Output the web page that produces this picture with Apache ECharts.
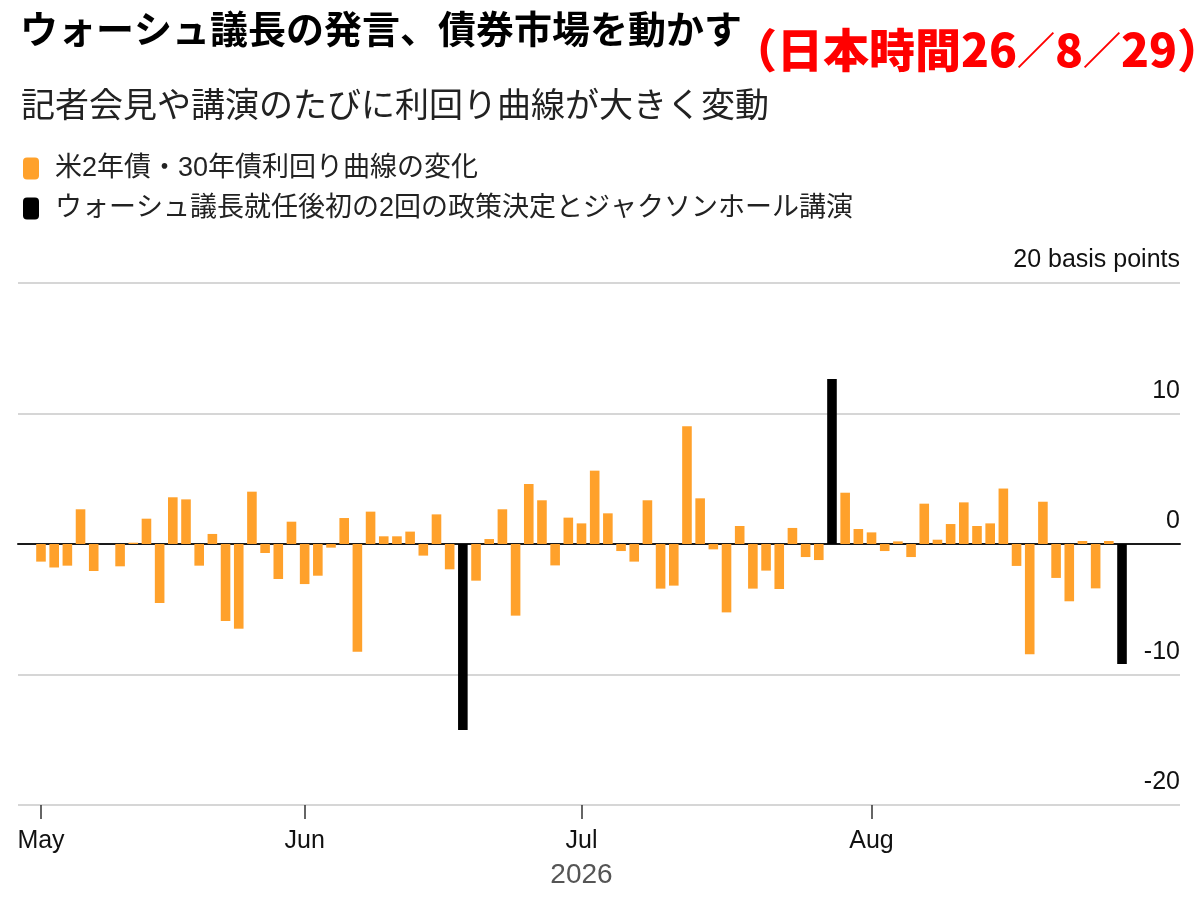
<!DOCTYPE html>
<html>
<head>
<meta charset="utf-8">
<script src="https://cdn.jsdelivr.net/npm/echarts@6/dist/echarts.min.js"></script>
<style>
  html, body { margin: 0; padding: 0; background: #fff; }
  #chart { width: 1200px; height: 900px; }
</style>
</head>
<body>
<div id="chart"></div>
<script>
// 取引日（米国債市場の休場日を除く）
var mayDays = [1, 4, 5, 6, 7, 8, 11, 12, 13, 14, 15, 18, 19, 20, 21, 22, 26, 27, 28, 29];
var junDays = [1, 2, 3, 4, 5, 8, 9, 10, 11, 12, 15, 16, 17, 18, 22, 23, 24, 25, 26, 29, 30];
var julDays = [1, 2, 6, 7, 8, 9, 10, 13, 14, 15, 16, 17, 20, 21, 22, 23, 24, 27, 28, 29, 30, 31];
var augDays = [3, 4, 5, 6, 7, 10, 11, 12, 13, 14, 17, 18, 19, 20, 21, 24, 25, 26, 27, 28];
var monthNames = ['Jan', 'Feb', 'Mar', 'Apr', 'May', 'Jun', 'Jul', 'Aug', 'Sep', 'Oct', 'Nov', 'Dec'];

// 2年債・30年債利回り曲線の変化（bp）
var curveChange = [
  -1.35, -1.8, -1.66, 2.66, -2.07, 0, -1.71, 0.1, 1.94, -4.52,
  3.58, 3.42, -1.66, 0.77, -5.9, -6.49, 4.01, -0.69, -2.68, 1.71,
  -3.07, -2.43, -0.28, 1.99, -8.25, 2.48, 0.59, 0.59, 0.95, -0.89,
  2.27, -1.94, -14.25, -2.81, 0.38, 2.66, -5.49, 4.6, 3.35, -1.64,
  2.02, 1.58, 5.62, 2.35, -0.54, -1.35, 3.35, -3.42, -3.19, 9.02,
  3.5, -0.41, -5.24, 1.38, -3.42, -2.04, -3.45, 1.23, -1.0, -1.23,
  12.64, 3.93, 1.15, 0.89, -0.54, 0.2, -1.0, 3.09, 0.33, 1.53,
  3.19, 1.38, 1.58, 4.25, -1.68, -8.45, 3.24, -2.6, -4.39, 0.23,
  -3.4, 0.23, -9.2
];
// 政策決定とジャクソンホール講演の日
var eventDates = ['2026-06-17', '2026-07-29', '2026-08-28'];

var seriesCurve = '米2年債・30年債利回り曲線の変化';
var seriesEvent = 'ウォーシュ議長就任後初の2回の政策決定とジャクソンホール講演';

function pad(n) { return n < 10 ? '0' + n : '' + n; }
var dates = [];
[[5, mayDays], [6, junDays], [7, julDays], [8, augDays]].forEach(function (m) {
  m[1].forEach(function (d) { dates.push('2026-' + pad(m[0]) + '-' + pad(d)); });
});

var curveData = dates.map(function (d, i) {
  return eventDates.indexOf(d) >= 0 ? null : curveChange[i];
});
var eventData = dates.map(function (d, i) {
  return eventDates.indexOf(d) >= 0 ? curveChange[i] : null;
});

function isMonthStart(idx) {
  return idx === 0 || dates[idx].slice(5, 7) !== dates[idx - 1].slice(5, 7);
}

var latin = "'Liberation Sans', 'Noto Sans CJK JP', sans-serif";
var cjk = "'Noto Sans CJK JP', sans-serif";

var chart = echarts.init(document.getElementById('chart'));

var option = {
  animation: false,
  backgroundColor: '#fff',
  title: [
    {
      text: 'ウォーシュ議長の発言、債券市場を動かす',
      left: 15, top: 5,
      textStyle: { fontFamily: cjk, fontSize: 38, fontWeight: 'bold', color: '#000' }
    },
    {
      text: '{a|（日本時間26}{s|／}{a|8}{s|／}{a|29）}',
      left: 726, top: 22,
      textStyle: {
        rich: {
          a: { fontFamily: cjk, fontSize: 46, fontWeight: 900, color: '#f00' },
          s: { fontFamily: cjk, fontSize: 38, fontWeight: 900, color: '#f00' }
        }
      }
    },
    {
      text: '記者会見や講演のたびに利回り曲線が大きく変動',
      left: 16, top: 82,
      textStyle: { fontFamily: cjk, fontSize: 34, fontWeight: 'normal', color: '#222' }
    }
  ],
  legend: {
    orient: 'vertical',
    left: 18, top: 150,
    icon: 'roundRect',
    itemWidth: 16, itemHeight: 22,
    itemGap: 13,
    selectedMode: false,
    textStyle: { fontFamily: latin, fontSize: 27, color: '#222', padding: [0, 0, 0, 11] },
    data: [seriesCurve, seriesEvent]
  },
  grid: [
    { left: 18, right: 20, top: 283, bottom: 95 },
    { left: 34.4, right: 71.4, top: 283, bottom: 95 }
  ],
  xAxis: [
    {
      type: 'value', gridIndex: 0,
      axisLine: { show: true, onZero: true, lineStyle: { color: '#1a1a1a', width: 2 } },
      axisTick: { show: false }, axisLabel: { show: false }, splitLine: { show: false }
    },
    {
      type: 'category', gridIndex: 1, data: dates,
      axisLine: { show: false, onZero: false },
      axisTick: {
        show: true, alignWithLabel: true, length: 14,
        interval: function (idx) { return isMonthStart(idx); },
        lineStyle: { color: '#333', width: 1.5 }
      },
      axisLabel: {
        interval: function (idx) { return isMonthStart(idx); },
        formatter: function (v) { return monthNames[parseInt(v.slice(5, 7), 10) - 1]; },
        margin: 24, fontFamily: latin, fontSize: 25, color: '#111'
      },
      name: '2026', nameLocation: 'middle', nameGap: 56,
      nameTextStyle: { fontFamily: latin, fontSize: 28, color: '#555' }
    }
  ],
  yAxis: [
    {
      type: 'value', gridIndex: 0, position: 'right',
      min: -20, max: 20, interval: 10,
      axisLine: { show: false }, axisTick: { show: false },
      axisLabel: {
        inside: true, margin: 0, align: 'right', verticalAlign: 'bottom',
        padding: [0, 0, 10, 0],
        fontFamily: latin, fontSize: 25, color: '#111',
        formatter: function (v) { return v === 20 ? '20 basis points' : v; }
      },
      splitLine: { show: true, lineStyle: { color: '#d6d6d6', width: 2 } }
    },
    { type: 'value', gridIndex: 1, min: -20, max: 20, interval: 10, show: false }
  ],
  series: [
    {
      name: seriesCurve, type: 'bar', xAxisIndex: 1, yAxisIndex: 1,
      data: curveData, barWidth: 9.6, barGap: '-100%',
      itemStyle: { color: '#ffa12b' }
    },
    {
      name: seriesEvent, type: 'bar', xAxisIndex: 1, yAxisIndex: 1,
      data: eventData, barWidth: 9.6, barGap: '-100%',
      itemStyle: { color: '#000' }
    }
  ]
};

chart.setOption(option);
</script>
</body>
</html>
